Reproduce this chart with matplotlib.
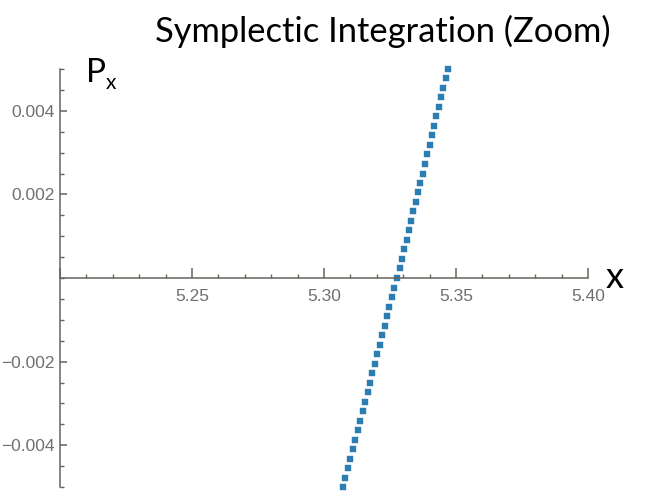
import matplotlib
matplotlib.use("Agg")
import matplotlib.pyplot as plt
from matplotlib.ticker import MultipleLocator, FixedLocator

# points (x, Px)
px_vals = [-0.00500, -0.00478, -0.00455, -0.00432, -0.00410, -0.00387, -0.00364,
           -0.00342, -0.00318, -0.00296, -0.00273, -0.00250, -0.00228, -0.00205,
           -0.00182, -0.00160, -0.00137, -0.00114, -0.00092, -0.00069, -0.00046,
           -0.00023, 0.00000, 0.00023, 0.00046, 0.00069, 0.00092, 0.00114,
           0.00137, 0.00160, 0.00182, 0.00205, 0.00228, 0.00250, 0.00273,
           0.00296, 0.00318, 0.00342, 0.00364, 0.00387, 0.00410, 0.00432,
           0.00455, 0.00478, 0.00500]
x_vals = [5.3072, 5.3081, 5.3091, 5.3100, 5.3109, 5.3118, 5.3128,
          5.3137, 5.3146, 5.3155, 5.3165, 5.3174, 5.3183, 5.3192,
          5.3202, 5.3211, 5.3220, 5.3230, 5.3239, 5.3248, 5.3258,
          5.3267, 5.3277, 5.3286, 5.3295, 5.3304, 5.3313, 5.3321,
          5.3330, 5.3339, 5.3348, 5.3357, 5.3365, 5.3374, 5.3383,
          5.3391, 5.3400, 5.3409, 5.3418, 5.3426, 5.3435, 5.3444,
          5.3452, 5.3461, 5.3470]

x_ticks = [5.25, 5.30, 5.35, 5.40]
x_labels = ["5.25", "5.30", "5.35", "5.40"]
y_ticks = [-0.004, -0.002, 0.002, 0.004]
y_labels = ["\u22120.004", "\u22120.002", "0.002", "0.004"]

axis_col = "#67625b"
lab_col = "#707070"

fig = plt.figure(figsize=(6.46, 4.97), dpi=100)
ax = fig.add_axes([60 / 646, 10 / 497, 528 / 646, 418 / 497])

ax.plot(x_vals, px_vals, ls="none", marker="s", ms=3.8, mfc="#2c7db4",
        mec="#2c7db4", mew=0.3, clip_on=False)

ax.set_xlim(5.20, 5.40)
ax.set_ylim(-0.005, 0.005)

for s in ["top", "right"]:
    ax.spines[s].set_visible(False)
ax.spines["bottom"].set_position(("data", 0))
for s in ["left", "bottom"]:
    ax.spines[s].set_color(axis_col)
    ax.spines[s].set_linewidth(1.1)

ax.xaxis.set_major_locator(FixedLocator([5.20] + x_ticks))
ax.set_xticklabels([""] + x_labels)
ax.xaxis.set_minor_locator(MultipleLocator(0.01))
ax.yaxis.set_major_locator(FixedLocator(y_ticks))
ax.set_yticklabels(y_labels)
ax.yaxis.set_minor_locator(MultipleLocator(0.0005))

ax.tick_params(axis="x", which="major", direction="in", length=7, width=1.1,
               color=axis_col, pad=8, labelsize=12.5, labelcolor=lab_col)
ax.tick_params(axis="x", which="minor", direction="in", length=3.2, width=1.0,
               color=axis_col)
ax.tick_params(axis="y", which="major", direction="in", length=5, width=1.1,
               color=axis_col, pad=4, labelsize=12.5, labelcolor=lab_col)
ax.tick_params(axis="y", which="minor", direction="in", length=3, width=1.0,
               color=axis_col)
for t in ax.get_xticklabels() + ax.get_yticklabels():
    t.set_fontfamily("Liberation Sans")

fig.text(155 / 646, 1 - 42 / 497, "Symplectic Integration (Zoom)",
         fontsize=24.8, family="Lato", ha="left", va="baseline")
fig.text(86 / 646, 1 - 82 / 497, "P", fontsize=24, family="Lato",
         ha="left", va="baseline")
fig.text(106 / 646, 1 - 89 / 497, "x", fontsize=15, family="Lato",
         ha="left", va="baseline")
fig.text(606 / 646, 1 - 288 / 497, "x", fontsize=26, family="Lato",
         ha="left", va="baseline")

fig.savefig("out.png", dpi=100)
